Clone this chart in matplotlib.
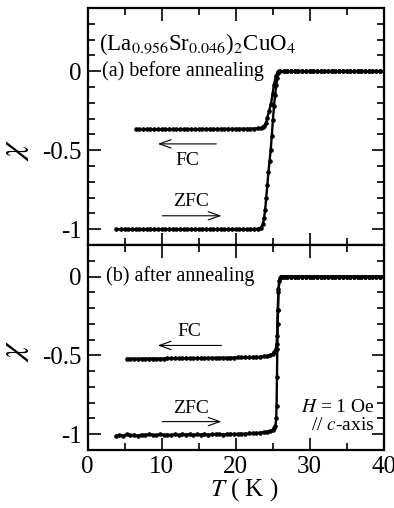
import numpy as np
import matplotlib
matplotlib.use("Agg")
import matplotlib.pyplot as plt
from matplotlib.ticker import MultipleLocator, FixedLocator, FixedFormatter

plt.rcParams['font.family'] = ['Liberation Serif', 'DejaVu Serif']
plt.rcParams['mathtext.fontset'] = 'stix'
plt.rcParams['axes.unicode_minus'] = False

# temperature points shared by the normal-state (chi = 0) part of every curve
T_normal = [26.5, 27.0, 27.5, 28.0, 28.5, 29.0, 29.5, 30.0, 30.5, 31.0, 31.5, 32.0,
            32.5, 33.0, 33.5, 34.0, 34.5, 35.0, 35.5, 36.0, 36.5, 37.0, 37.5, 38.0,
            38.5, 39.0, 39.5, 40.0]
chi_normal = [0.0] * len(T_normal)

# (a) before annealing
zfc_a_T = [3.9, 4.5, 5.0, 5.5, 6.0, 6.5, 7.0, 7.5, 8.0, 8.5, 9.0, 9.5, 10.0, 10.5,
           11.0, 11.5, 12.0, 12.5, 13.0, 13.5, 14.0, 14.5, 15.0, 15.5, 16.0, 16.5,
           17.0, 17.5, 18.0, 18.5, 19.0, 19.5, 20.0, 20.5, 21.0, 21.5, 22.0, 22.5,
           23.0, 23.4, 23.7, 23.85, 24.0, 24.15, 24.3, 24.45, 24.6, 24.75, 24.9,
           25.05, 25.2, 25.35, 25.5, 25.65, 25.8, 26.0]
zfc_a_chi = [-1.0, -1.0, -1.0, -1.0, -1.0, -1.0, -1.0, -1.0, -1.0, -1.0, -1.0, -1.0,
             -1.0, -1.0, -1.0, -1.0, -1.0, -1.0, -1.0, -1.0, -1.0, -1.0, -1.0, -1.0,
             -1.0, -1.0, -1.0, -1.0, -1.0, -1.0, -1.0, -1.0, -1.0, -1.0, -1.0, -1.0,
             -1.0, -1.0, -0.998, -0.99, -0.97, -0.93, -0.88, -0.80, -0.72, -0.64,
             -0.57, -0.50, -0.41, -0.31, -0.22, -0.15, -0.09, -0.04, -0.01, 0.0]
fc_a_T = [6.6, 7.0, 7.5, 8.0, 8.5, 9.0, 9.5, 10.0, 10.5, 11.0, 11.5, 12.0, 12.5,
          13.0, 13.5, 14.0, 14.5, 15.0, 15.5, 16.0, 16.5, 17.0, 17.5, 18.0, 18.5,
          19.0, 19.5, 20.0, 20.5, 21.0, 21.5, 22.0, 22.5, 23.0, 23.4, 23.7, 23.9,
          24.1, 24.3, 24.55, 24.8, 25.0, 25.2, 25.45, 25.7, 25.9]
fc_a_chi = [-0.368, -0.368, -0.368, -0.368, -0.368, -0.368, -0.368, -0.368, -0.368,
            -0.368, -0.368, -0.368, -0.367, -0.367, -0.367, -0.367, -0.367, -0.367,
            -0.367, -0.366, -0.366, -0.366, -0.366, -0.366, -0.365, -0.365, -0.365,
            -0.365, -0.365, -0.364, -0.364, -0.364, -0.363, -0.362, -0.36, -0.355,
            -0.345, -0.33, -0.295, -0.25, -0.205, -0.146, -0.085, -0.032, -0.006, 0.0]

# (b) after annealing
zfc_b_T = [3.9, 4.3, 4.8, 5.3, 5.8, 6.3, 6.8, 7.3, 7.8, 8.3, 8.8, 9.3, 9.8, 10.3,
           10.8, 11.3, 11.8, 12.3, 12.8, 13.3, 13.8, 14.3, 14.8, 15.3, 15.8, 16.3,
           16.8, 17.3, 17.8, 18.3, 18.8, 19.3, 19.8, 20.3, 20.8, 21.3, 21.8, 22.3,
           22.8, 23.3, 23.8, 24.3, 24.7, 25.0, 25.25, 25.4, 25.5, 25.55, 25.6,
           25.65, 25.7, 25.75, 25.8, 25.9, 26.1]
zfc_b_chi = [-1.01, -1.005, -1.01, -1.0, -1.008, -1.004, -1.01, -1.002, -1.006, -1.0,
             -1.004, -1.008, -1.0, -1.005, -1.002, -1.006, -1.0, -1.004, -1.0, -1.003,
             -1.0, -1.004, -1.0, -1.002, -0.998, -1.003, -1.0, -1.0, -0.998, -1.002,
             -1.0, -0.998, -1.0, -0.998, -0.997, -0.998, -0.995, -0.994, -0.993,
             -0.99, -0.988, -0.984, -0.978, -0.972, -0.962, -0.945, -0.90, -0.82,
             -0.64, -0.46, -0.30, -0.215, -0.10, -0.03, 0.0]
fc_b_T = [5.4, 5.8, 6.3, 6.8, 7.3, 7.8, 8.3, 8.8, 9.3, 9.8, 10.3, 10.8, 11.3, 11.8,
          12.3, 12.8, 13.3, 13.8, 14.3, 14.8, 15.3, 15.8, 16.3, 16.8, 17.3, 17.8,
          18.3, 18.8, 19.3, 19.8, 20.3, 20.8, 21.3, 21.8, 22.3, 22.8, 23.3, 23.8,
          24.3, 24.7, 25.0, 25.25, 25.45, 25.55, 25.62, 25.7, 25.8, 26.0, 26.2]
fc_b_chi = [-0.522, -0.522, -0.521, -0.521, -0.521, -0.521, -0.52, -0.52, -0.52,
            -0.52, -0.52, -0.519, -0.519, -0.519, -0.519, -0.518, -0.518, -0.518,
            -0.518, -0.517, -0.517, -0.517, -0.516, -0.516, -0.516, -0.515, -0.515,
            -0.515, -0.514, -0.514, -0.513, -0.513, -0.512, -0.512, -0.511, -0.51,
            -0.509, -0.507, -0.504, -0.50, -0.492, -0.48, -0.46, -0.43, -0.38,
            -0.215, -0.08, -0.01, 0.0]

fig = plt.figure(figsize=(3.94, 5.08), dpi=100)
ax_a = fig.add_axes([0.2221, 0.5177, 0.7513, 0.4665])
ax_b = fig.add_axes([0.2221, 0.1142, 0.7513, 0.4035])


def draw_curve(ax, T, chi):
    ax.plot(list(T) + T_normal, list(chi) + chi_normal, color='k', lw=1.7,
            marker='o', ms=2.3, mec='k', mfc='k', zorder=3)


def arrow(ax, x0, x1, y):
    ax.annotate('', xy=(x1, y), xytext=(x0, y),
                arrowprops=dict(arrowstyle='->,head_length=0.7,head_width=0.25',
                                lw=0.8, color='k', shrinkA=0, shrinkB=0,
                                mutation_scale=12))


draw_curve(ax_a, zfc_a_T, zfc_a_chi)
draw_curve(ax_a, fc_a_T, fc_a_chi)
draw_curve(ax_b, zfc_b_T, zfc_b_chi)
draw_curve(ax_b, fc_b_T, fc_b_chi)

ax_a.set_ylim(-1.1, 0.4)
ax_b.set_ylim(-1.1, 0.2)

for ax in (ax_a, ax_b):
    ax.set_xlim(0, 40)
    ax.xaxis.set_major_locator(MultipleLocator(10))
    ax.xaxis.set_minor_locator(MultipleLocator(5))
    ax.yaxis.set_major_locator(FixedLocator([-1.0, -0.5, 0.0]))
    ax.yaxis.set_major_formatter(FixedFormatter(['-1', '-0.5', '0']))
    ax.yaxis.set_minor_locator(MultipleLocator(0.1))
    ax.tick_params(which='both', direction='in', top=True, right=True,
                   width=1.2, labelsize=18)
    ax.tick_params(which='major', length=9, pad=4)
    ax.tick_params(which='minor', length=5)
    for s in ax.spines.values():
        s.set_linewidth(1.6)
    ax.set_ylabel(r'$\chi$', fontsize=24, labelpad=0)

ax_a.tick_params(labelbottom=False)
ax_a.yaxis.set_label_coords(-0.19, 0.40)
ax_b.yaxis.set_label_coords(-0.19, 0.485)
ax_b.set_xlabel(r'$T$ ( K )', fontsize=18, labelpad=2)
ax_b.xaxis.set_label_coords(0.53, -0.128)

# panel (a) labels
ax_a.text(1.6, 0.17, r'(La$_{0.956}$Sr$_{0.046}$)$_2$CuO$_4$', fontsize=16.5,
          va='center', ha='left')
ax_a.text(1.9, 0.0, '(a) before annealing', fontsize=14.5, va='center', ha='left')
ax_a.text(13.5, -0.565, 'FC', fontsize=14, ha='center', va='center')
arrow(ax_a, 17.4, 9.5, -0.46)
ax_a.text(14.0, -0.825, 'ZFC', fontsize=14, ha='center', va='center')
arrow(ax_a, 10.1, 18.1, -0.915)

# panel (b) labels
ax_b.text(2.5, 0.0, '(b) after annealing', fontsize=14.5, va='center', ha='left')
ax_b.text(13.8, -0.35, 'FC', fontsize=14, ha='center', va='center')
arrow(ax_b, 18.1, 9.5, -0.437)
ax_b.text(14.0, -0.84, 'ZFC', fontsize=14, ha='center', va='center')
arrow(ax_b, 10.1, 18.1, -0.92)
ax_b.text(38.8, -0.83, r'$H$ = 1 Oe', fontsize=14, ha='right', va='center')
ax_b.text(38.8, -0.945, r'// $c$-axis', fontsize=14, ha='right', va='center')

fig.savefig('out.png', dpi=100)
